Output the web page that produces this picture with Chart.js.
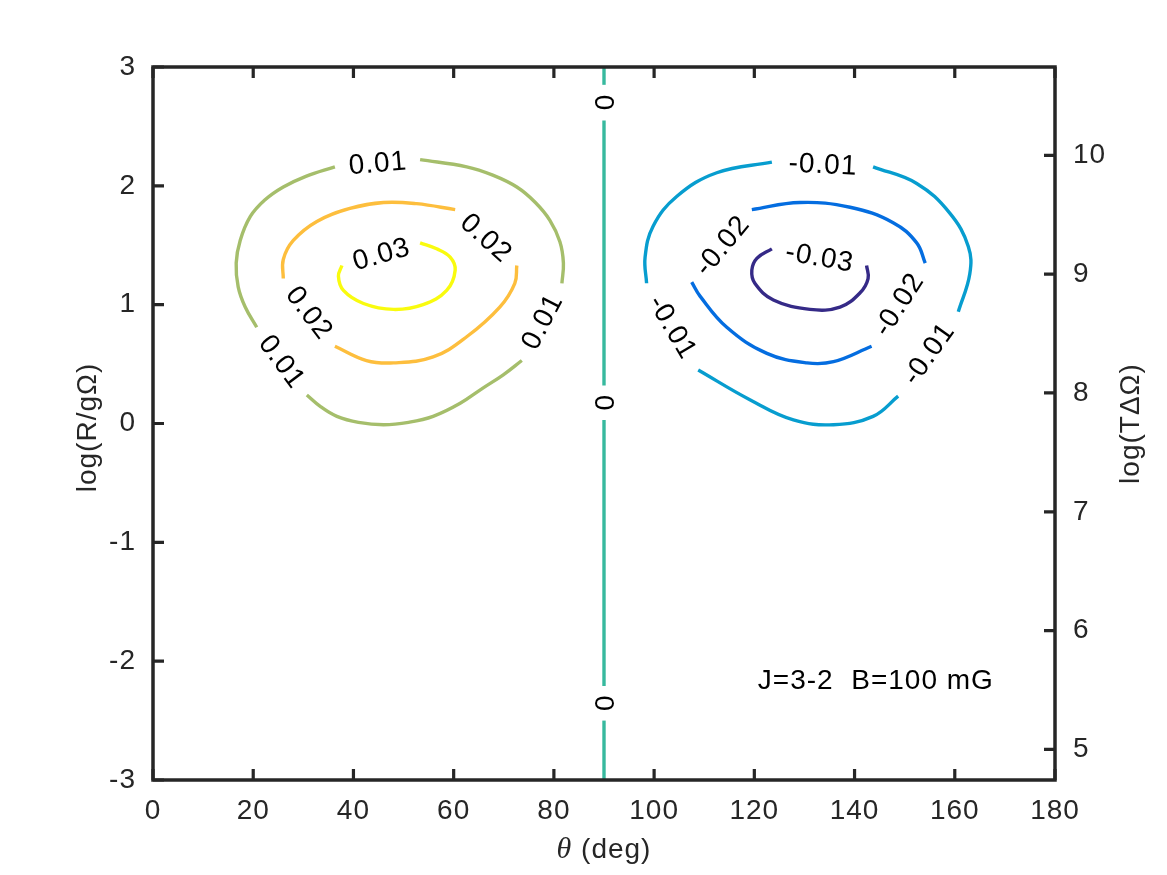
<!DOCTYPE html>
<html>
<head>
<meta charset="utf-8">
<script src="https://cdn.jsdelivr.net/npm/chart.js@4.4.1/dist/chart.umd.min.js"></script>
<style>
  html, body { margin: 0; padding: 0; background: #fff; }
</style>
</head>
<body>
<canvas id="chartContour" width="1167" height="875"></canvas>
<script>
// axis ticks
const thetaTicks = [0, 20, 40, 60, 80, 100, 120, 140, 160, 180];
const logRTicks = [-3, -2, -1, 0, 1, 2, 3];
const logTTicks = [5, 6, 7, 8, 9, 10];
const logTOffset = 7.743; // log(TdO) = log(R/gO) + offset

// contour levels and their colours (parula)
const levels = [-0.03, -0.02, -0.01, 0, 0.01, 0.02, 0.03];
const levelColors = ['#352a87', '#046de0', '#079dcf', '#37b99e', '#a5be6b', '#fdbe3d', '#f9fb0e'];

// contour pieces [theta, logR], a label sits in each gap between pieces
const pos01 = [
  [[36.3, 2.16], [30.5, 2.08], [26.0, 1.99], [22.3, 1.88], [19.4, 1.74], [17.4, 1.54], [16.6, 1.35], [17.0, 1.15], [18.4, 0.98], [20.7, 0.81]],
  [[30.7, 0.24], [33.5, 0.14], [36.7, 0.06], [41.0, 0.01], [46.0, -0.01], [51.0, 0.01], [55.9, 0.06], [61.3, 0.17], [65.9, 0.30], [69.9, 0.41], [73.6, 0.53]],
  [[81.6, 1.18], [81.9, 1.35], [81.2, 1.53], [79.2, 1.71], [76.3, 1.86], [72.6, 1.99], [67.8, 2.09], [62.6, 2.16], [53.3, 2.22]]
];
const pos02 = [
  [[36.3, 0.65], [42.6, 0.53], [48.0, 0.51], [55.9, 0.56], [62.6, 0.73], [69.2, 0.98], [72.2, 1.18], [72.6, 1.33]],
  [[60.3, 1.80], [52.6, 1.85], [46.0, 1.86], [39.3, 1.81], [32.7, 1.70], [28.0, 1.54], [26.0, 1.38], [26.0, 1.22]]
];
const pos03 = [
  [[37.7, 1.33], [37.0, 1.24], [38.0, 1.12], [42.0, 1.01], [48.0, 0.96], [53.9, 1.00], [58.6, 1.12], [60.3, 1.29], [59.3, 1.40], [56.6, 1.47], [53.3, 1.52]]
];
const neg01 = [
  [[143.7, 2.16], [152.4, 2.02], [159.0, 1.77], [162.7, 1.49], [163.0, 1.26], [160.7, 0.94]],
  [[148.7, 0.23], [143.7, 0.06], [135.8, -0.01], [127.8, 0.03], [119.1, 0.20], [108.8, 0.45]],
  [[98.5, 1.18], [98.2, 1.40], [99.8, 1.66], [104.5, 1.91], [112.5, 2.11], [123.5, 2.20]]
];
const neg02 = [
  [[119.5, 1.80], [129.1, 1.86], [139.1, 1.82], [147.7, 1.69], [152.4, 1.52], [154.1, 1.35]],
  [[143.4, 0.65], [135.8, 0.52], [130.5, 0.51], [122.5, 0.59], [114.5, 0.81], [109.2, 1.07], [107.5, 1.19]]
];
const neg03 = [
  [[123.5, 1.47], [120.5, 1.39], [119.5, 1.29], [120.1, 1.18], [123.8, 1.04], [131.1, 0.96], [137.1, 0.98], [141.1, 1.10], [142.7, 1.22], [142.4, 1.33]]
];
const zero0 = [
  [[90, 3], [90, 2.85]],
  [[90, 2.55], [90, 0.32]],
  [[90, 0.03], [90, -2.21]],
  [[90, -2.50], [90, -3]]
];

const noteText = 'J=3-2  B=100 mG';
const notePos = [120.7, -2.17];

const contours = [
  { level: 0.01, closed: true, pieces: pos01 },
  { level: 0.02, closed: true, pieces: pos02 },
  { level: 0.03, closed: true, pieces: pos03 },
  { level: -0.01, closed: true, pieces: neg01 },
  { level: -0.02, closed: true, pieces: neg02 },
  { level: -0.03, closed: true, pieces: neg03 },
  { level: 0, closed: false, pieces: zero0 }
];

const FONT = '"Liberation Sans", Arial, Helvetica, sans-serif';
const TXT = '#262626';
const SPACING = '1px';

function levelColor(level) {
  return levelColors[levels.indexOf(level)];
}

function getDatasets() {
  let result = [];
  for (let c of contours) {
    for (let piece of c.pieces) {
      result.push({
        data: piece.map(p => ({ x: p[0], y: p[1] })),
        borderColor: levelColor(c.level),
        borderWidth: 3.4,
        showLine: true,
        pointRadius: 0,
        tension: 0.4,
        fill: false,
        yAxisID: 'y'
      });
    }
  }
  return result;
}

// labels in the gaps of each contour
const contourLabels = {
  id: 'contourLabels',
  afterDatasetsDraw(chart) {
    const ctx = chart.ctx;
    const x = chart.scales.x, y = chart.scales.y;
    ctx.save();
    ctx.letterSpacing = SPACING;
    ctx.font = '28px ' + FONT;
    ctx.fillStyle = '#000';
    ctx.textAlign = 'center';
    ctx.textBaseline = 'middle';
    for (let c of contours) {
      let n = c.pieces.length;
      let gaps = c.closed ? n : n - 1;
      for (let i = 0; i < gaps; i++) {
        let a = c.pieces[i][c.pieces[i].length - 1];
        let b = c.pieces[(i + 1) % n][0];
        let ax = x.getPixelForValue(a[0]), ay = y.getPixelForValue(a[1]);
        let bx = x.getPixelForValue(b[0]), by = y.getPixelForValue(b[1]);
        let ang = Math.atan2(by - ay, bx - ax);
        if (ang > Math.PI / 2 + 1e-6) ang -= Math.PI;
        if (ang < -Math.PI / 2 - 1e-6) ang += Math.PI;
        ctx.save();
        ctx.translate((ax + bx) / 2, (ay + by) / 2);
        ctx.rotate(ang);
        ctx.fillText(String(c.level), 0.5, 1);
        ctx.restore();
      }
    }
    ctx.restore();
  }
};

// box, inward ticks, axis titles and the note
const frameAndTicks = {
  id: 'frameAndTicks',
  beforeDraw(chart) {
    chart.ctx.letterSpacing = SPACING;
  },
  afterDraw(chart) {
    const { ctx, chartArea: a, scales } = chart;
    ctx.save();
    ctx.strokeStyle = TXT;
    ctx.lineWidth = 3.5;
    ctx.lineCap = 'butt';
    ctx.strokeRect(a.left, a.top, a.right - a.left, a.bottom - a.top);
    ctx.lineWidth = 3.2;
    ctx.beginPath();
    for (let t of thetaTicks) {
      let px = scales.x.getPixelForValue(t);
      ctx.moveTo(px, a.bottom); ctx.lineTo(px, a.bottom - 11);
      ctx.moveTo(px, a.top); ctx.lineTo(px, a.top + 11);
    }
    for (let v of logRTicks) {
      let py = scales.y.getPixelForValue(v);
      ctx.moveTo(a.left, py); ctx.lineTo(a.left + 11, py);
    }
    for (let v of logTTicks) {
      let py = scales.y2.getPixelForValue(v);
      ctx.moveTo(a.right, py); ctx.lineTo(a.right - 11, py);
    }
    ctx.stroke();

    ctx.fillStyle = TXT;
    ctx.letterSpacing = SPACING;
    ctx.textBaseline = 'middle';
    ctx.textAlign = 'center';
    let midY = (a.top + a.bottom) / 2;
    ctx.font = '28px ' + FONT;
    ctx.save();
    ctx.translate(88, midY + 4);
    ctx.rotate(-Math.PI / 2);
    ctx.fillText('log(R/gΩ)', 0, 0);
    ctx.restore();
    ctx.save();
    ctx.translate(1131, midY);
    ctx.rotate(-Math.PI / 2);
    ctx.fillText('log(TΔΩ)', 0, 0);
    ctx.restore();

    // x title with italic theta
    ctx.textAlign = 'left';
    let thetaFont = 'italic 30px "Liberation Serif", "DejaVu Serif", serif';
    let restFont = '28px ' + FONT;
    ctx.font = thetaFont;
    let w1 = ctx.measureText('θ').width;
    ctx.font = restFont;
    let w2 = ctx.measureText(' (deg)').width;
    let x0 = (a.left + a.right) / 2 - (w1 + w2) / 2;
    ctx.font = thetaFont;
    ctx.fillText('θ', x0, 850);
    ctx.font = restFont;
    ctx.fillText(' (deg)', x0 + w1, 850);

    // note
    ctx.fillStyle = '#000';
    ctx.font = '28px ' + FONT;
    ctx.fillText(noteText, scales.x.getPixelForValue(notePos[0]), scales.y.getPixelForValue(notePos[1]));
    ctx.restore();
  }
};

function tickList(values) {
  return function (scale) {
    scale.ticks = values.map(v => ({ value: v }));
  };
}

const tickFont = { family: FONT, size: 28 };

const config = {
  type: 'scatter',
  data: { datasets: getDatasets() },
  options: {
    responsive: false,
    devicePixelRatio: 1,
    animation: false,
    layout: { padding: { top: 67, left: 0, right: 0, bottom: 0 } },
    plugins: { legend: { display: false }, tooltip: { enabled: false } },
    scales: {
      x: {
        type: 'linear', min: 0, max: 180,
        afterBuildTicks: tickList(thetaTicks),
        afterFit: s => { s.height = 95; },
        grid: { display: false }, border: { display: false },
        ticks: { font: tickFont, color: TXT, padding: 6, maxRotation: 0, autoSkip: false }
      },
      y: {
        type: 'linear', position: 'left', min: -3, max: 3,
        afterBuildTicks: tickList(logRTicks),
        afterFit: s => { s.width = 153; },
        grid: { display: false }, border: { display: false },
        ticks: { font: tickFont, color: TXT, padding: 9, autoSkip: false }
      },
      y2: {
        type: 'linear', position: 'right', min: -3 + logTOffset, max: 3 + logTOffset,
        afterBuildTicks: tickList(logTTicks),
        afterFit: s => { s.width = 112; },
        grid: { display: false }, border: { display: false },
        ticks: { font: tickFont, color: TXT, padding: 10, autoSkip: false }
      }
    }
  },
  plugins: [contourLabels, frameAndTicks]
};

const chartContour = new Chart(document.getElementById('chartContour'), config);
</script>
</body>
</html>
